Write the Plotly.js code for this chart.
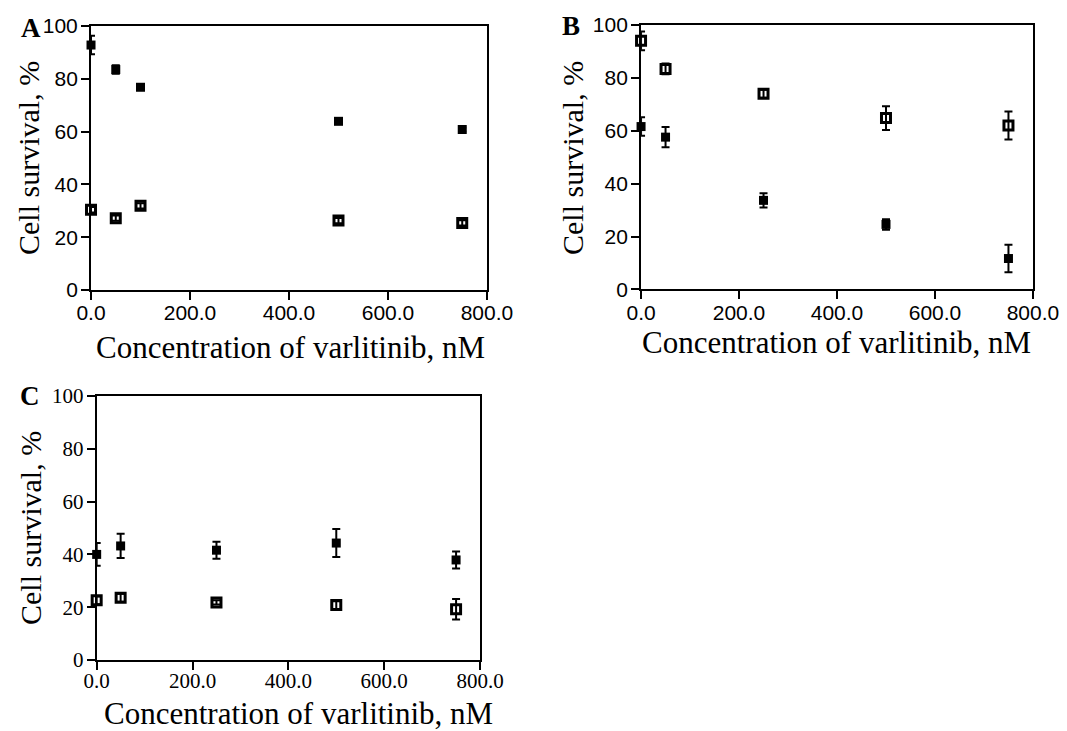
<!DOCTYPE html>
<html>
<head>
<meta charset="utf-8">
<script src="https://cdn.plot.ly/plotly-3.0.1.min.js"></script>
<style>
  html, body { margin: 0; padding: 0; background: #fff; }
  #chart { width: 1067px; height: 731px; }
</style>
</head>
<body>
<div id="chart"></div>
<script>
// Concentrations of varlitinib (nM)
const concA = [0, 50, 100, 500, 750];
const concB = [0, 50, 250, 500, 750];
const concC = [0, 50, 250, 500, 750];

// Panel A: cell survival (%) with error
const survA_filled = [92.8, 83.5, 76.8, 63.9, 60.8];
const errA_filled  = [3.5, 1.6, 0.8, 0.8, 0.8];
const survA_open   = [30.4, 27.2, 31.9, 26.3, 25.4];
const errA_open    = [1.0, 1.0, 1.0, 1.0, 1.0];

// Panel B
const survB_open   = [94.0, 83.4, 74.0, 64.8, 62.0];
const errB_open    = [3.5, 2.0, 1.5, 4.5, 5.3];
const survB_filled = [61.6, 57.6, 33.7, 24.6, 11.7];
const errB_filled  = [3.5, 3.8, 2.7, 2.0, 5.2];

// Panel C
const survC_filled = [40.0, 43.2, 41.6, 44.3, 37.9];
const errC_filled  = [4.3, 4.6, 3.2, 5.3, 3.2];
const survC_open   = [22.6, 23.6, 21.8, 20.8, 19.2];
const errC_open    = [1.5, 1.5, 0.8, 1.5, 3.9];

const xTicks = [0, 200, 400, 600, 800];
const yTicks = [0, 20, 40, 60, 80, 100];
const xTitle = 'Concentration of varlitinib, nM';
const yTitle = 'Cell survival, %';
const panelLabels = ['A', 'B', 'C'];

const SANS = 'Liberation Sans, Arial, sans-serif';
const SERIF = 'Liberation Serif, Times New Roman, serif';
const W = 1067, H = 731;

function series(x, y, err, open, xa, ya) {
  return {
    type: 'scatter', mode: 'markers', x: x, y: y,
    xaxis: xa, yaxis: ya, cliponaxis: false, showlegend: false,
    marker: open
      ? { symbol: 'square-open', size: 9, color: '#000', line: { width: 3, color: '#000' } }
      : { symbol: 'square', size: 9, color: '#000' },
    error_y: { type: 'data', array: err, visible: true, color: '#000', thickness: 2, width: 4 }
  };
}

const data = [
  series(concA, survA_filled, errA_filled, false, 'x', 'y'),
  series(concA, survA_open, errA_open, true, 'x', 'y'),
  series(concB, survB_open, errB_open, true, 'x2', 'y2'),
  series(concB, survB_filled, errB_filled, false, 'x2', 'y2'),
  series(concC, survC_filled, errC_filled, false, 'x3', 'y3'),
  series(concC, survC_open, errC_open, true, 'x3', 'y3')
];

function axisBase(tickFont) {
  return {
    fixedrange: true,
    ticks: 'outside', ticklen: 8, tickwidth: 2, tickcolor: '#000',
    showline: true, linewidth: 2, linecolor: '#000', mirror: true,
    showgrid: false, zeroline: false,
    tickfont: { family: tickFont, size: 21, color: '#000' },
    automargin: false
  };
}
function xAxis(domain, anchor, tickFont, standoff) {
  return Object.assign(axisBase(tickFont), {
    domain: domain, anchor: anchor, range: [0, 800],
    tickvals: xTicks, ticktext: xTicks.map(v => v.toFixed(1)),
    ticklabelstandoff: standoff
  });
}
function yAxis(domain, anchor, tickFont) {
  return Object.assign(axisBase(tickFont), {
    domain: domain, anchor: anchor, range: [0, 100],
    tickvals: yTicks, ticklabelstandoff: -1
  });
}

// pixel-placed text helper (paper coordinates from pixel offsets)
function label(text, px, py, opts) {
  return Object.assign({
    text: text, xref: 'paper', yref: 'paper',
    x: px / W, y: 1 - py / H, xanchor: 'center', yanchor: 'middle',
    showarrow: false, font: { family: SERIF, size: 31, color: '#000' }
  }, opts || {});
}

const yFont = { family: SERIF, size: 30, color: '#000' };
const letterFont = { family: SERIF, size: 27, color: '#000' };

const annotations = [
  // axis titles
  label(xTitle, 290, 347),
  label(xTitle, 836, 342),
  label(xTitle, 298, 713),
  label(yTitle, 28, 158, { textangle: -90, font: yFont }),
  label(yTitle, 572, 158, { textangle: -90, font: yFont }),
  label(yTitle, 30, 528, { textangle: -90, font: yFont }),
  // panel letters
  label('<b>' + panelLabels[0] + '</b>', 31, 28, { font: letterFont }),
  label('<b>' + panelLabels[1] + '</b>', 571, 26, { font: letterFont }),
  label('<b>' + panelLabels[2] + '</b>', 30, 396, { font: letterFont })
];

const layout = {
  width: W, height: H,
  margin: { l: 0, r: 0, t: 0, b: 0 },
  paper_bgcolor: '#fff', plot_bgcolor: '#fff',
  xaxis: xAxis([0.0853, 0.4564], 'y', SANS, -5),
  yaxis: yAxis([0.6033, 0.9644], 'x', SANS),
  xaxis2: xAxis([0.6008, 0.9681], 'y2', SANS, -5),
  yaxis2: yAxis([0.6040, 0.9658], 'x2', SANS),
  xaxis3: xAxis([0.0906, 0.4499], 'y3', SERIF, -7),
  yaxis3: yAxis([0.0971, 0.4583], 'x3', SERIF),
  annotations: annotations
};

Plotly.newPlot('chart', data, layout, { staticPlot: true, displayModeBar: false });
</script>
</body>
</html>
